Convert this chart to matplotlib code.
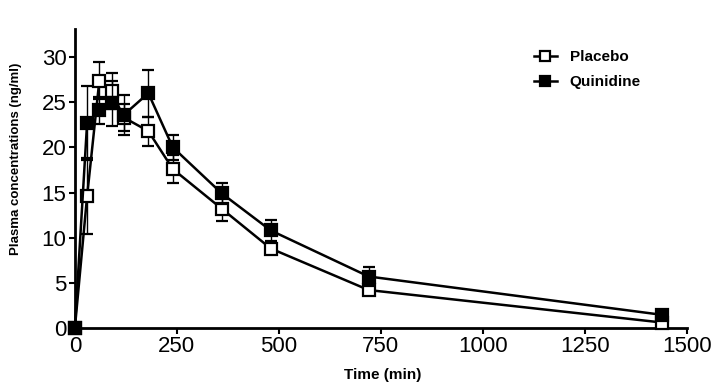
import matplotlib
matplotlib.use('Agg')
import matplotlib.pyplot as plt
from matplotlib import font_manager

# sampling times (min) and mean plasma concentrations (ng/ml) with SD
time_min = [0, 30, 60, 90, 120, 180, 240, 360, 480, 720, 1440]
placebo = [0, 14.6, 27.4, 26.2, 23.3, 21.8, 17.6, 13.2, 8.8, 4.2, 0.6]
placebo_err = [0, 4.2, 2.1, 2.0, 1.5, 1.6, 1.5, 1.4, 0.6, 0.4, 0.2]
quinidine = [0, 22.7, 24.1, 24.9, 23.6, 26.0, 20.0, 14.9, 10.8, 5.7, 1.45]
quinidine_err = [0, 4.1, 1.5, 2.5, 2.2, 2.6, 1.4, 1.2, 1.2, 1.1, 0.3]

x_ticks = [0, 250, 500, 750, 1000, 1250, 1500]
y_ticks = [0, 5, 10, 15, 20, 25, 30]

names = {f.name for f in font_manager.fontManager.ttflist}
narrow = 'Liberation Sans Narrow' if 'Liberation Sans Narrow' in names else 'Liberation Sans'

plt.rcParams['font.family'] = ['Liberation Sans', 'DejaVu Sans']

fig = plt.figure(figsize=(7.13, 3.87), dpi=100)
ax = fig.add_axes([0.105, 0.1525, 0.8585, 0.7725])

eb1 = ax.errorbar(time_min, placebo, yerr=placebo_err, color='black', lw=1.8,
                  marker='s', markersize=8.5, markerfacecolor='white', markeredgewidth=1.6,
                  capsize=4.5, elinewidth=1.0, capthick=1.0, clip_on=False, zorder=3)
eb2 = ax.errorbar(time_min, quinidine, yerr=quinidine_err, color='black', lw=1.8,
                  marker='s', markersize=8.5, markerfacecolor='black', markeredgewidth=1.6,
                  capsize=4.5, elinewidth=1.0, capthick=1.0, clip_on=False, zorder=4)

ax.set_xlim(0, 1500)
ax.set_ylim(0, 33.1)
ax.set_xticks(x_ticks)
ax.set_yticks(y_ticks)
ax.tick_params(labelsize=16, width=1.5, length=4.5, direction='out', pad=1.5)
for s in ['top', 'right']:
    ax.spines[s].set_visible(False)
for s in ['left', 'bottom']:
    ax.spines[s].set_linewidth(2)

ax.set_xlabel('Time (min)', fontsize=11, fontweight='bold', family=narrow)
ax.xaxis.set_label_coords(0.503, -0.134)
ax.set_ylabel('Plasma concentrations (ng/ml)', fontsize=9.5, fontweight='bold', family=narrow)
ax.yaxis.set_label_coords(-0.087, 0.565)

leg = ax.legend([eb1.lines[0], eb2.lines[0]], ['Placebo', 'Quinidine'],
                loc='upper left', bbox_to_anchor=(0.75, 0.93), frameon=False,
                borderpad=0, borderaxespad=0,
                prop={'family': narrow, 'weight': 'bold', 'size': 11},
                handlelength=1.5, handletextpad=0.85, labelspacing=0.72, markerscale=0.85)

fig.savefig('out.png', dpi=100)
